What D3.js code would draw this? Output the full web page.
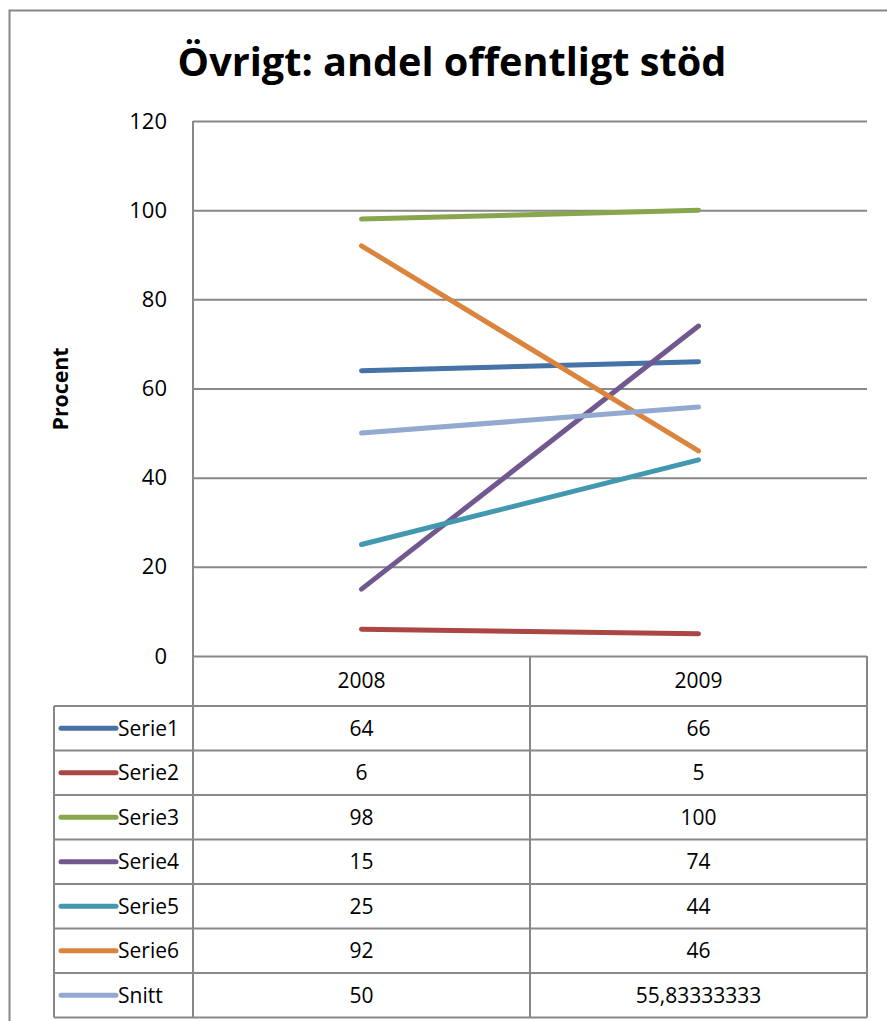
<!DOCTYPE html>
<html>
<head>
<meta charset="utf-8">
<script src="https://cdn.jsdelivr.net/npm/d3@7"></script>
<style>
  body { margin: 0; background: #fff; }
  svg { display: block; font-family: "Open Sans", "Liberation Sans", sans-serif; }
</style>
</head>
<body>
<svg id="chart" width="887" height="1021"></svg>
<script>
// chart data
var years = ["2008", "2009"];
var seriesNames = ["Serie1", "Serie2", "Serie3", "Serie4", "Serie5", "Serie6", "Snitt"];
var values2008 = [64, 6, 98, 15, 25, 92, 50];
var values2009 = [66, 5, 100, 74, 44, 46, 55.83333333];
var labels2009 = ["66", "5", "100", "74", "44", "46", "55,83333333"];
var labels2008 = ["64", "6", "98", "15", "25", "92", "50"];
var yTicks = [0, 20, 40, 60, 80, 100, 120];
var colors = ["#4572A7", "#AA4643", "#89A54E", "#71588F", "#4198AF", "#DB843D", "#93A9CF"];

var svg = d3.select("#chart");
var gridColor = "#888888";

// outer chart border (right and bottom fall outside the picture)
svg.append("rect")
  .attr("x", 9.5).attr("y", 10.5)
  .attr("width", 900).attr("height", 1030)
  .attr("fill", "none")
  .attr("stroke", gridColor)
  .attr("stroke-width", 2);

var plot = {left: 193, right: 867, top: 121, bottom: 656};

var x = d3.scaleBand().domain(years).range([plot.left, plot.right]);
var y = d3.scaleLinear().domain([0, 120]).range([plot.bottom, plot.top]);

// title
function fitText(sel, target) {
  var w = sel.node().getComputedTextLength();
  var fs = parseFloat(sel.attr("font-size"));
  sel.attr("font-size", fs * target / w);
}
var title = svg.append("text")
  .attr("x", 452).attr("y", 76)
  .attr("text-anchor", "middle")
  .attr("font-weight", "bold")
  .attr("font-size", 40)
  .attr("fill", "#000")
  .text("Övrigt: andel offentligt stöd");
fitText(title, 549);

// gridlines + y axis
var yAxis = svg.append("g")
  .attr("transform", "translate(" + plot.left + ",0)")
  .call(d3.axisLeft(y).tickValues(yTicks).tickSize(-(plot.right - plot.left)).tickPadding(26));
yAxis.select(".domain").remove();
yAxis.selectAll(".tick line").attr("stroke", gridColor).attr("stroke-width", 2);
yAxis.selectAll(".tick text")
  .attr("font-family", "Open Sans, sans-serif")
  .attr("font-size", 22)
  .attr("fill", "#000");

var rowH = 44.5;
var tableTop = 706;
var tableBottom = tableTop + rowH * seriesNames.length;
var tableLeft = 54;

// axis line on left runs through the table
svg.append("line")
  .attr("x1", plot.left).attr("x2", plot.left)
  .attr("y1", plot.top).attr("y2", tableBottom)
  .attr("stroke", gridColor).attr("stroke-width", 2);

// axis label
var ylab = svg.append("text")
  .attr("transform", "translate(68,389) rotate(-90)")
  .attr("text-anchor", "middle")
  .attr("font-weight", "bold")
  .attr("font-size", 18)
  .text("Procent");
fitText(ylab, 83);

// data table grid
var tbl = svg.append("g").attr("stroke", gridColor).attr("stroke-width", 2).attr("fill", "none");
// header row verticals
years.forEach(function (yr) {
  tbl.append("line")
    .attr("x1", x(yr) + x.bandwidth()).attr("x2", x(yr) + x.bandwidth())
    .attr("y1", plot.bottom).attr("y2", tableBottom);
});
// horizontal rows
d3.range(seriesNames.length + 1).forEach(function (i) {
  tbl.append("line")
    .attr("x1", tableLeft).attr("x2", plot.right)
    .attr("y1", tableTop + i * rowH).attr("y2", tableTop + i * rowH);
});
tbl.append("line")
  .attr("x1", tableLeft).attr("x2", tableLeft)
  .attr("y1", tableTop).attr("y2", tableBottom);

// header labels
svg.selectAll(".yearlab").data(years).enter().append("text")
  .attr("class", "yearlab")
  .attr("x", function (d) { return x(d) + x.bandwidth() / 2; })
  .attr("y", plot.bottom + 25)
  .attr("dy", "0.35em")
  .attr("text-anchor", "middle")
  .attr("font-size", 21)
  .text(function (d) { return d; });

// table rows: legend key + values
seriesNames.forEach(function (name, i) {
  var cy = tableTop + i * rowH + rowH / 2;
  svg.append("line")
    .attr("x1", 61).attr("x2", 116)
    .attr("y1", cy).attr("y2", cy)
    .attr("stroke", colors[i]).attr("stroke-width", 5)
    .attr("stroke-linecap", "round");
  svg.append("text")
    .attr("x", 118).attr("y", cy)
    .attr("dy", "0.35em")
    .attr("font-size", 21)
    .text(name);
  [labels2008[i], labels2009[i]].forEach(function (lab, j) {
    svg.append("text")
      .attr("x", x(years[j]) + x.bandwidth() / 2)
      .attr("y", cy)
      .attr("dy", "0.35em")
      .attr("text-anchor", "middle")
      .attr("font-size", 21)
      .text(lab);
  });
});

// series lines
var line = d3.line()
  .x(function (d) { return x(d.year) + x.bandwidth() / 2; })
  .y(function (d) { return y(d.value); });

seriesNames.forEach(function (name, i) {
  var pts = [{year: years[0], value: values2008[i]}, {year: years[1], value: values2009[i]}];
  svg.append("path")
    .datum(pts)
    .attr("d", line)
    .attr("fill", "none")
    .attr("stroke", colors[i])
    .attr("stroke-width", 5)
    .attr("stroke-linecap", "round");
});
</script>
</body>
</html>
